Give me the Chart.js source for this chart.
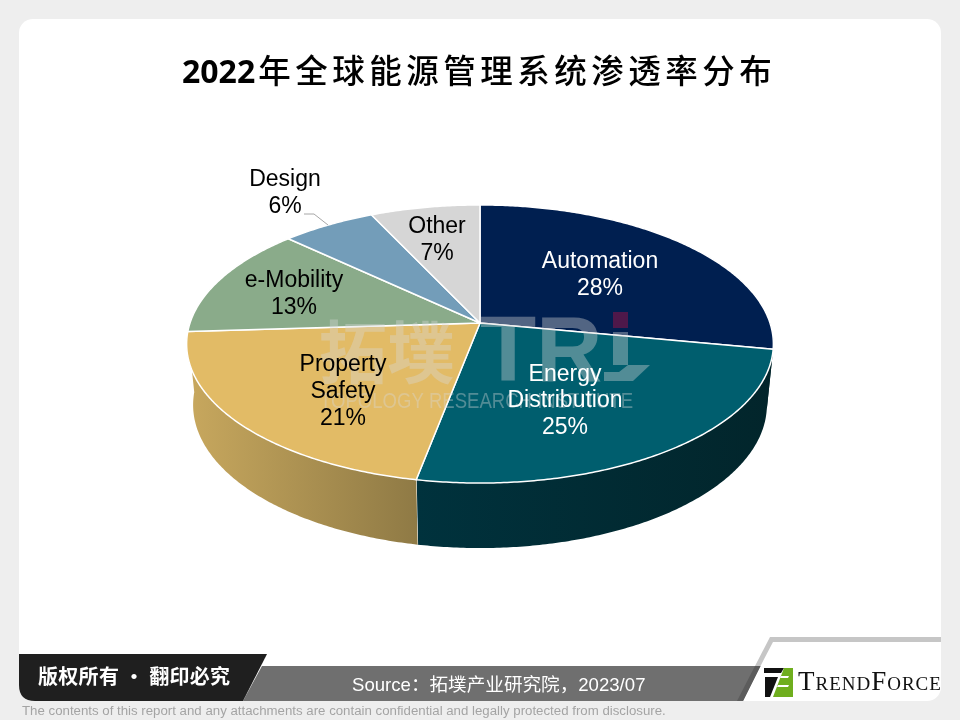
<!DOCTYPE html>
<html>
<head>
<meta charset="utf-8">
<script src="https://cdn.jsdelivr.net/npm/chart.js@4"></script>
<style>
    html, body { margin: 0; padding: 0; background: #eeeeee; }
    #page { position: relative; width: 960px; height: 720px; overflow: hidden; background: #eeeeee; }
    #card { position: absolute; left: 19px; top: 19px; width: 922px; height: 682px; background: #ffffff; border-radius: 14px; }
    #pieChart { position: absolute; left: 0; top: 0; }
    #shapes { position: absolute; left: 0; top: 0; }
    .txt { position: absolute; white-space: nowrap; font-family: "Liberation Sans", sans-serif; }
    #title { left: 182px; top: 44px; font-size: 32.5px; line-height: 50px; color: #000; font-family: "Noto Sans CJK SC", sans-serif; font-weight: 500; letter-spacing: 4.5px; }
    #title b { font-family: "Open Sans", sans-serif; font-weight: 700; letter-spacing: 0; margin-right: 3px; font-size: 32px; }
    #rights { left: 38px; top: 663px; font-size: 20px; line-height: 26px; color: #fff; font-weight: bold; font-family: "Noto Sans CJK SC", sans-serif; letter-spacing: 0.3px; }
    #source { left: 352px; top: 673px; font-size: 18.6px; line-height: 24px; color: #fff; font-family: "Liberation Sans", "Noto Sans CJK SC", sans-serif; }
    #note { left: 22px; top: 703px; font-size: 13.25px; line-height: 15px; color: #a4a4a4; }
    #brand { left: 798px; top: 666px; font-size: 27px; line-height: 30px; color: #111; font-family: "Liberation Serif", serif; font-variant: small-caps; letter-spacing: 1px; }
</style>
</head>
<body>
<div id="page">
    <div id="card"></div>
    <canvas id="pieChart" width="960" height="720"></canvas>
    <svg id="shapes" width="960" height="720">
        <polygon points="770,637 941,637 941,642 773,642 760.5,666 755,666" fill="#c6c6c6"/>
        <polygon points="262,666 760.5,666 743,701 243,701" fill="#6f6f6f"/>
        <polygon points="755,666 760.5,666 743,701 737,701" fill="#5c5c5c"/>
        <path d="M19,654 L267,654 L243,701 L35,701 Q19,701 19,685 Z" fill="#1f1f1f"/>
        <polygon points="935,701 941,694 941,702 935,702" fill="#eeeeee"/>
        <polygon points="764,668 784,668 781,673 764,673" fill="#111"/>
        <polygon points="765,677 778,677 770,697 765,697" fill="#111"/>
        <polygon points="784,668 793,668 793,697 773,697" fill="#6fae1e"/>
        <polygon points="781,676 789,676 788,678 780,678" fill="#ffffff"/>
        <polygon points="778,685 789,685 788,687 777,687" fill="#ffffff"/>
    </svg>
    <div class="txt" id="title"><b>2022</b>年全球能源管理系统渗透率分布</div>
    <div class="txt" id="rights">版权所有 · 翻印必究</div>
    <div class="txt" id="source">Source：拓墣产业研究院，2023/07</div>
    <div class="txt" id="note">The contents of this report and any attachments are contain confidential and legally protected from disclosure.</div>
    <div class="txt" id="brand">TrendForce</div>
</div>
<script>
    const categories = ['Automation', 'Energy Distribution', 'Property Safety', 'e-Mobility', 'Design', 'Other'];
    const shares = [28, 25, 21, 13, 6, 7];
    const sliceColors = ['#001f50', '#005e6e', '#e2bb66', '#8aab8a', '#739db9', '#d6d6d6'];
    // left and right end of each side wall, null when the wall is hidden
    const wallColors = [
        ['#02252b', '#02252b'],
        ['#00323d', '#02252b'],
        ['#c8a85e', '#8f7a45'],
        null,
        null,
        null
    ];
    const labelColors = ['#ffffff', '#ffffff', '#000000', '#000000', '#000000', '#000000'];
    // middle of each label block, px
    const labelCenters = [[600, 275], [565, 401], [343, 391.5], [294, 294], [285, 193.5], [437, 240.5]];

    // tilted disc, near side larger
    const topDisc = { cx: 480, a: 290, b: 87.1, c: 323, k: -0.151 };
    const bottomDisc = { cx: 480, a: 283.6, b: 82, c: 383.3, k: -0.151 };

    function project(disc, angle, r) {
        const u = Math.cos(angle) * r;
        const v = Math.sin(angle) * r;
        const w = 1 + disc.k * v;
        return { x: disc.cx + disc.a * u / w, y: (disc.b * v + disc.c) / w };
    }

    function samples(start, end) {
        const steps = Math.max(2, Math.ceil(Math.abs(end - start) / 0.01));
        const list = [];
        for (let i = 0; i <= steps; i++) {
            list.push(start + (end - start) * i / steps);
        }
        return list;
    }

    function drawWall(ctx, arc, index) {
        const start = Math.max(arc.startAngle, 0);
        const end = Math.min(arc.endAngle, Math.PI);
        if (end <= start || !wallColors[index]) {
            return;
        }
        const angles = samples(start, end);
        const upper = angles.map(function (a) { return project(topDisc, a, 1); });
        const lower = angles.map(function (a) { return project(bottomDisc, a, 1); });
        const xs = upper.concat(lower).map(function (p) { return p.x; });
        const fill = ctx.createLinearGradient(Math.min.apply(null, xs), 0, Math.max.apply(null, xs), 0);
        fill.addColorStop(0, wallColors[index][0]);
        fill.addColorStop(1, wallColors[index][1]);
        ctx.beginPath();
        upper.forEach(function (p, i) {
            if (i === 0) { ctx.moveTo(p.x, p.y); } else { ctx.lineTo(p.x, p.y); }
        });
        lower.reverse().forEach(function (p) { ctx.lineTo(p.x, p.y); });
        ctx.closePath();
        ctx.fillStyle = fill;
        ctx.fill();

        // white seam between the two near walls
        if (arc.endAngle > 1 && arc.endAngle < Math.PI / 2 + 0.3) {
            const edgeTop = project(topDisc, arc.endAngle, 1);
            const edgeBottom = project(bottomDisc, arc.endAngle, 1);
            ctx.beginPath();
            ctx.moveTo(edgeTop.x, edgeTop.y);
            ctx.lineTo(edgeBottom.x, edgeBottom.y);
            ctx.strokeStyle = '#ffffff';
            ctx.lineWidth = 1;
            ctx.stroke();
        }
    }

    function drawFace(ctx, arc, index) {
        const apex = project(topDisc, 0, 0);
        ctx.beginPath();
        ctx.moveTo(apex.x, apex.y);
        samples(arc.startAngle, arc.endAngle).forEach(function (a) {
            const p = project(topDisc, a, 1);
            ctx.lineTo(p.x, p.y);
        });
        ctx.closePath();
        ctx.fillStyle = sliceColors[index];
        ctx.fill();
        ctx.strokeStyle = '#ffffff';
        ctx.lineWidth = 1.5;
        ctx.lineJoin = 'round';
        ctx.stroke();
    }

    function drawWatermark(ctx) {
        ctx.save();
        ctx.fillStyle = 'rgba(215, 215, 215, 0.38)';
        ctx.textAlign = 'left';
        ctx.textBaseline = 'alphabetic';
        ctx.font = 'bold 68px "Noto Sans CJK SC"';
        ctx.fillText('拓墣', 319, 378);
        ctx.font = 'bold 92px "Liberation Sans"';
        ctx.fillText('T', 480, 381);
        ctx.fillText('R', 536, 381);
        ctx.fillRect(613, 332, 15, 33);
        ctx.beginPath();
        ctx.moveTo(604, 381);
        ctx.lineTo(633, 381);
        ctx.lineTo(650, 365);
        ctx.lineTo(628, 365);
        ctx.lineTo(619, 372);
        ctx.lineTo(604, 372);
        ctx.closePath();
        ctx.fill();
        ctx.font = '22px "Liberation Sans"';
        ctx.fillText('TOPOLOGY RESEARCH INSTITUTE', 320, 408, 313);
        ctx.fillStyle = 'rgba(130, 20, 70, 0.6)';
        ctx.fillRect(613, 312, 15, 16);
        ctx.restore();
    }

    function drawLabels(ctx) {
        ctx.save();
        ctx.font = '23px "Liberation Sans"';
        ctx.textAlign = 'center';
        ctx.textBaseline = 'middle';
        categories.forEach(function (name, i) {
            const lines = name.split(' ').concat(shares[i] + '%');
            const lineHeight = 26.7;
            const top = labelCenters[i][1] - (lines.length - 1) * lineHeight / 2;
            ctx.fillStyle = labelColors[i];
            lines.forEach(function (line, n) {
                ctx.fillText(line, labelCenters[i][0], top + n * lineHeight);
            });
        });
        // leader line for Design
        ctx.beginPath();
        ctx.moveTo(304, 214);
        ctx.lineTo(314, 214);
        ctx.lineTo(328, 225);
        ctx.strokeStyle = '#a6a6a6';
        ctx.lineWidth = 1;
        ctx.stroke();
        ctx.restore();
    }

    const tiltedPie = {
        id: 'tiltedPie',
        beforeDatasetDraw: function (chart, args) {
            const ctx = chart.ctx;
            const arcs = args.meta.data;
            arcs.forEach(function (arc, i) { drawWall(ctx, arc, i); });
            arcs.forEach(function (arc, i) { drawFace(ctx, arc, i); });
            drawWatermark(ctx);
            drawLabels(ctx);
            return false;
        }
    };

    new Chart(document.getElementById('pieChart'), {
        type: 'pie',
        data: {
            labels: categories,
            datasets: [{
                data: shares,
                backgroundColor: sliceColors
            }]
        },
        options: {
            responsive: false,
            animation: false,
            devicePixelRatio: 1,
            plugins: {
                legend: { display: false },
                tooltip: { enabled: false }
            }
        },
        plugins: [tiltedPie]
    });
</script>
</body>
</html>
